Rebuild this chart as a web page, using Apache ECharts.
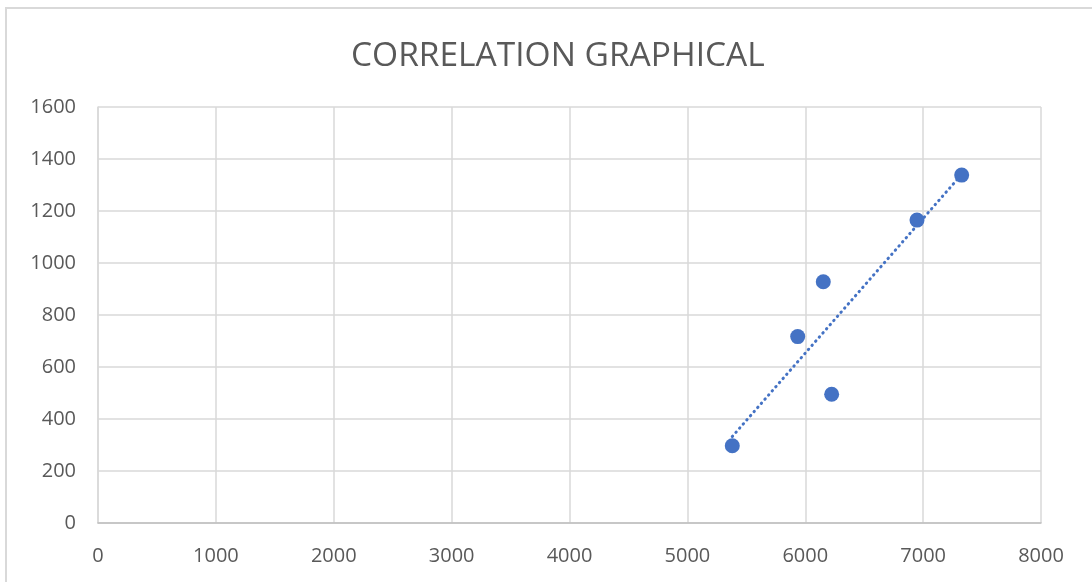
<!DOCTYPE html>
<html><head><meta charset="utf-8">
<script src="https://cdn.jsdelivr.net/npm/echarts@6/dist/echarts.min.js"></script>
<style>html,body{margin:0;padding:0;background:#fff}#c{width:1092px;height:582px}</style>
</head><body><div id="c"></div>
<script>
const titleText = 'CORRELATION GRAPHICAL';
const xValues = [5381, 5936, 6153, 6224, 6948, 7327];
const yValues = [297, 717, 928, 495, 1165, 1338];
const xTicks = {min: 0, max: 8000, interval: 1000};
const yTicks = {min: 0, max: 1600, interval: 200};

const points = xValues.map((x, i) => [x, yValues[i]]);
// linear least-squares trendline (as Excel's linear trendline)
const n = xValues.length;
const mx = xValues.reduce((a, b) => a + b, 0) / n;
const my = yValues.reduce((a, b) => a + b, 0) / n;
let sxy = 0, sxx = 0;
for (let i = 0; i < n; i++) { sxy += (xValues[i] - mx) * (yValues[i] - my); sxx += (xValues[i] - mx) ** 2; }
const slope = sxy / sxx, intercept = my - slope * mx;
const xMin = Math.min(...xValues), xMax = Math.max(...xValues);
const trend = [[xMin, intercept + slope * xMin], [xMax, intercept + slope * xMax]];

const chart = echarts.init(document.getElementById('c'), null, {renderer: 'canvas'});
const font = '"Open Sans", "Noto Sans", sans-serif';
const plain = v => String(v);
chart.setOption({
  animation: false,
  backgroundColor: '#fff',
  graphic: [{type: 'rect', shape: {x: 6, y: 8, width: 1100, height: 600}, style: {fill: 'none', stroke: '#d9d9d9', lineWidth: 2}, silent: true}],
  title: {text: titleText, left: 346, top: 34, textStyle: {fontFamily: font, fontSize: 33.5, fontWeight: 'normal', color: '#595959'}},
  grid: {left: 98, right: 51, top: 107, bottom: 59, containLabel: false},
  xAxis: {type: 'value', min: xTicks.min, max: xTicks.max, interval: xTicks.interval,
    axisLine: {show: true, onZero: false, lineStyle: {color: '#bfbfbf', width: 1.5}},
    axisTick: {show: false},
    axisLabel: {color: '#595959', fontFamily: font, fontSize: 20, margin: 23, formatter: plain},
    splitLine: {show: true, lineStyle: {color: '#d9d9d9', width: 1.5}}},
  yAxis: {type: 'value', min: yTicks.min, max: yTicks.max, interval: yTicks.interval,
    axisLine: {show: true, lineStyle: {color: '#d9d9d9', width: 1.5}},
    axisTick: {show: false},
    axisLabel: {color: '#595959', fontFamily: font, fontSize: 20, margin: 22, formatter: plain},
    splitLine: {show: true, lineStyle: {color: '#d9d9d9', width: 1.5}}},
  series: [
    {type: 'line', data: trend, showSymbol: false, symbol: 'none', z: 2,
      lineStyle: {color: '#4472c4', width: 3, type: [0.5, 5], cap: 'round'}},
    {type: 'scatter', data: points, symbolSize: 15, z: 3, itemStyle: {color: '#4472c4', opacity: 1}}
  ]
});
</script></body></html>
